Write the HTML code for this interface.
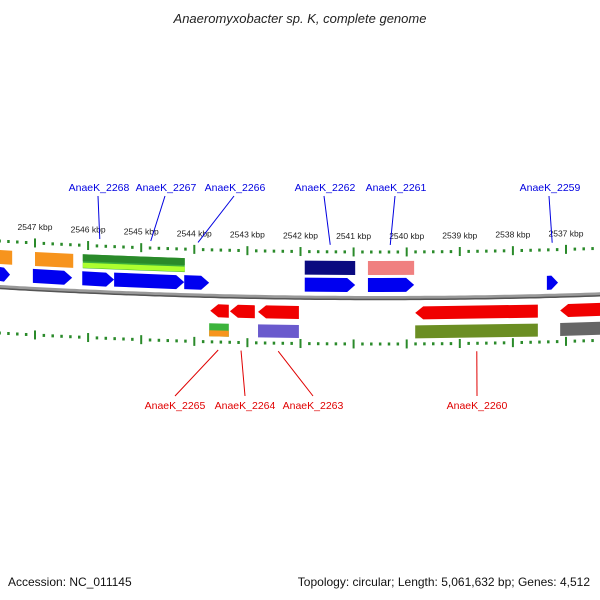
<!DOCTYPE html>
<html><head><meta charset="utf-8"><style>
body{margin:0;background:#fff}
svg{display:block;font-family:"Liberation Sans",sans-serif}
</style></head><body>
<svg id="c" width="600" height="600" viewBox="0 0 600 600">
<text x="300" y="23" text-anchor="middle" font-size="13" font-style="italic" fill="#222">Anaeromyxobacter sp. K, complete genome</text>
<text x="8" y="586" font-size="12" fill="#111">Accession: NC_011145</text>
<text x="590" y="586" font-size="12" fill="#111" text-anchor="end">Topology: circular; Length: 5,061,632 bp; Genes: 4,512</text>
<g id="g"></g>
</svg>
<script>
const tickKbp=[2547,2546,2545,2544,2543,2542,2541,2540,2539,2538,2537];
const topArrows=[[2547.66,2547.47],[2547.04,2546.30],[2546.11,2545.51],[2545.51,2544.19],[2544.19,2543.72],[2541.92,2540.97],[2540.73,2539.86],[2537.36,2537.15]];
const topBoxes=[[2547.66,2547.43,"#f7941d"],[2547.0,2546.28,"#f7941d"],[2546.10,2544.18,"#3cae3c"],[2541.92,2540.97,"#0a0a80"],[2540.73,2539.86,"#f08080"]];
const botArrows=[[2543.70,2543.35],[2543.33,2542.86],[2542.80,2542.03],[2539.84,2537.53],[2537.11,2536.30]];
const botBoxes=[[2543.72,2543.35,"#3cb43c"],[2542.80,2542.03,"#6a5acd"],[2539.84,2537.53,"#6b8e23"],[2537.11,2536.30,"#666"]];
const topLabels=[["AnaeK_2268",2545.78,99],["AnaeK_2267",2544.82,166],["AnaeK_2266",2543.93,235],["AnaeK_2262",2541.44,325],["AnaeK_2261",2540.31,396],["AnaeK_2259",2537.26,550]];
const botLabels=[["AnaeK_2265",2543.55,175],["AnaeK_2264",2543.12,245],["AnaeK_2263",2542.42,313],["AnaeK_2260",2538.68,477]];
const NS="http://www.w3.org/2000/svg",G=document.getElementById('g');
const X=k=>35+(2547-k)*53.1;
const B=x=>298-7.6e-5*(x-380)*(x-380);
function el(t,a,n){const e=document.createElementNS(NS,t);for(const k in a)e.setAttribute(k,a[k]);


G.appendChild(e);return e;}
let d="";for(let x=-5;x<=605;x+=5)d+=(x<0?"M":"L")+x+","+B(x).toFixed(1);
el('path',{d:d,stroke:'#999',"stroke-width":4,fill:'none'},'backbone');
el('path',{d:d,stroke:'#555',"stroke-width":1.5,fill:'none',transform:'translate(0,1.5)'},'backbone-shadow');
for(let i=-8;i<=72;i++){const k=2548-i/6;const x=X(k);if(x<-3||x>603)continue;
 const major=(i%6===0);const h=major?9:3;const w=major?2:2.5;
 el('rect',{x:x-w/2,y:B(x)-46-h/2,width:w,height:h,fill:'#2a8a2a'},major?'top-major-tick':'top-minor-tick');
 el('rect',{x:x-w/2,y:B(x)+46-h/2,width:w,height:h,fill:'#2a8a2a'},major?'bottom-major-tick':'bottom-minor-tick');}
tickKbp.forEach(k=>{const x=X(k);const t=el('text',{x:x,y:B(x)-59,"font-size":8.5,"text-anchor":"middle",fill:'#222'},'tick-label-'+k);t.textContent=k+" kbp";});
function quad(x1,x2,off,h,fill,name,dir){const a=B(x1)+off,b=B(x2)+off;let pts;
 if(dir===1){const tip=Math.min(8,(x2-x1)*.6);pts=[[x1,a-h/2],[x2-tip,b-h/2],[x2,b],[x2-tip,b+h/2],[x1,a+h/2]];}
 else if(dir===-1){const tip=Math.min(8,(x2-x1)*.6);pts=[[x1+tip,a-h/2],[x2,b-h/2],[x2,b+h/2],[x1+tip,a+h/2],[x1,a]];}
 else pts=[[x1,a-h/2],[x2,b-h/2],[x2,b+h/2],[x1,a+h/2]];
 el('polygon',{points:pts.map(p=>p.join(',')).join(' '),fill:fill},name);}
topArrows.forEach(f=>quad(X(f[0]),X(f[1]),-13,14,'#0000f0','forward-gene',1));
topBoxes.forEach(f=>{quad(X(f[0]),X(f[1]),-30,14,f[2],'feature-box');
 if(f[2]=="#3cae3c"){quad(X(f[0]),X(f[1]),-33.5,7,'#2a8a2a','feature-box-top');quad(X(f[0]),X(f[1]),-26,5,'#adff2f','feature-box-bottom');}});
botArrows.forEach(f=>quad(X(f[0]),X(f[1]),15,13,'#f00000','reverse-gene',-1));
botBoxes.forEach(f=>{quad(X(f[0]),X(f[1]),34,13,f[2],'feature-box');
 if(f[2]=="#3cb43c")quad(X(f[0]),X(f[1]),37.5,6,'#f7941d','feature-box-bottom');});
topLabels.forEach(l=>{const x=X(l[1]);el('line',{x1:x,y1:B(x)-53,x2:l[2]-1,y2:196,stroke:'#0000e0'},'label-leader');
 const t=el('text',{x:l[2],y:191,"font-size":10.5,"text-anchor":"middle",fill:'#0000e0'},'gene-label');t.textContent=l[0];});
botLabels.forEach(l=>{const x=X(l[1]);el('line',{x1:x,y1:B(x)+54,x2:l[2],y2:396,stroke:'#e00000'},'label-leader');
 const t=el('text',{x:l[2],y:409,"font-size":10.5,"text-anchor":"middle",fill:'#e00000'},'gene-label');t.textContent=l[0];});
</script>
</body></html>
